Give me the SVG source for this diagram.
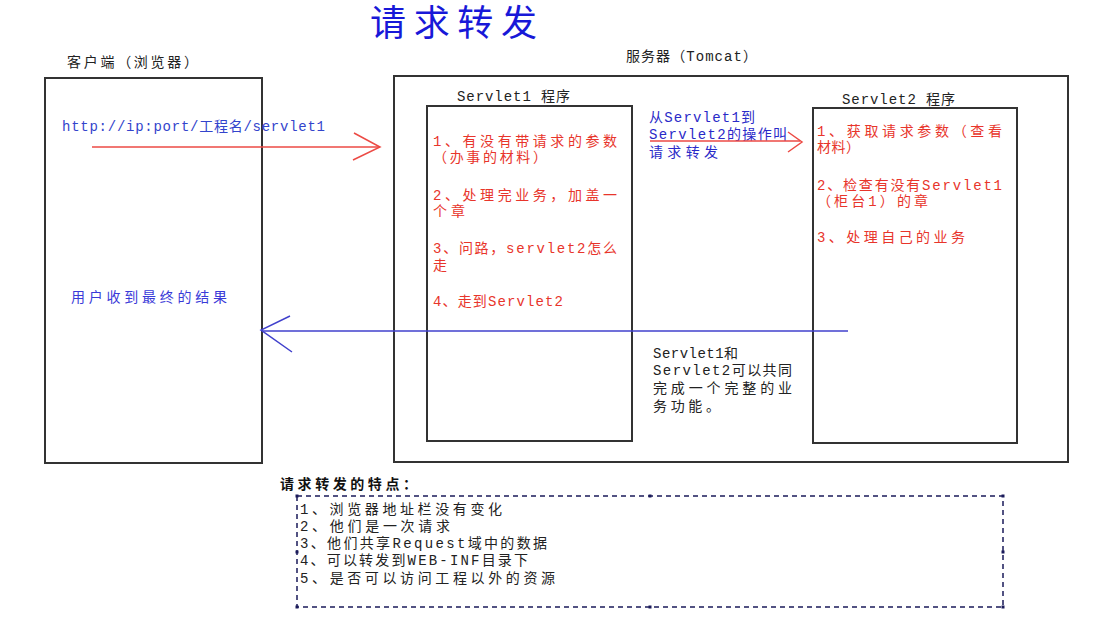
<svg xmlns="http://www.w3.org/2000/svg" width="1097" height="625" viewBox="0 0 1097 625">
<style>
.box{fill:none;stroke:#333;stroke-width:2}
.t{font-family:"Liberation Mono","Noto Sans CJK SC",monospace;font-size:14px}
.red{fill:#e8352b}
.blue{fill:#2a2ac8}
.blk{fill:#222}
.arrR{fill:none;stroke:#ec4a44;stroke-width:1.5}
.arrB{fill:none;stroke:#4040cc;stroke-width:1.5}
.dash{fill:none;stroke:#1a1a5a;stroke-width:1.5;stroke-dasharray:5 4}
.dot{fill:#1a1a5a}
</style>
<rect width="1097" height="625" fill="#fff"/>
<text x="370" y="36" font-family="Noto Sans CJK SC,sans-serif" font-size="36" fill="#1818d8" textLength="167" lengthAdjust="spacing">请求转发</text>

<g id="client">
<rect class="box" x="45" y="78" width="217" height="385"/>
<text class="t blk" x="67" y="67" textLength="131" lengthAdjust="spacing">客户端（浏览器）</text>
<text class="t" x="62" y="131" fill="#3344cc" textLength="263" lengthAdjust="spacing">http://ip:port/工程名/servlet1</text>
<text class="t" x="71" y="302" fill="#3a3ad8" textLength="156" lengthAdjust="spacing">用户收到最终的结果</text>
</g>

<g id="server">
<rect class="box" x="394" y="76" width="674" height="386"/>
<text class="t blk" x="626" y="61" textLength="131" lengthAdjust="spacing">服务器（Tomcat）</text>
<text class="t blue" x="649" y="122" textLength="106" lengthAdjust="spacing">从Servlet1到</text>
<text class="t blue" x="649" y="139" textLength="138" lengthAdjust="spacing">Servlet2的操作叫</text>
<text class="t blue" x="649" y="157" textLength="69" lengthAdjust="spacing">请求转发</text>
<text class="t blk" x="653" y="358" textLength="85" lengthAdjust="spacing">Servlet1和</text>
<text class="t blk" x="653" y="375" textLength="139" lengthAdjust="spacing">Servlet2可以共同</text>
<text class="t blk" x="653" y="393" textLength="139" lengthAdjust="spacing">完成一个完整的业</text>
<text class="t blk" x="653" y="411" textLength="67" lengthAdjust="spacing">务功能。</text>
</g>

<g id="servlet1">
<rect class="box" x="427" y="106" width="205" height="335"/>
<text class="t blk" x="457" y="101" textLength="113" lengthAdjust="spacing">Servlet1 程序</text>
<text class="t red" x="433" y="146" textLength="184" lengthAdjust="spacing">1、有没有带请求的参数</text>
<text class="t red" x="433" y="162" textLength="114" lengthAdjust="spacing">（办事的材料）</text>
<text class="t red" x="433" y="200" textLength="184" lengthAdjust="spacing">2、处理完业务，加盖一</text>
<text class="t red" x="433" y="216" textLength="32" lengthAdjust="spacing">个章</text>
<text class="t red" x="433" y="253" textLength="184" lengthAdjust="spacing">3、问路，servlet2怎么</text>
<text class="t red" x="433" y="270">走</text>
<text class="t red" x="433" y="306" textLength="130" lengthAdjust="spacing">4、走到Servlet2</text>
</g>

<g id="servlet2">
<rect class="box" x="813" y="108" width="204" height="335"/>
<text class="t blk" x="842" y="104" textLength="113" lengthAdjust="spacing">Servlet2 程序</text>
<text class="t red" x="817" y="136" textLength="185" lengthAdjust="spacing">1、获取请求参数（查看</text>
<text class="t red" x="817" y="152" textLength="43" lengthAdjust="spacing">材料）</text>
<text class="t red" x="817" y="190" textLength="185" lengthAdjust="spacing">2、检查有没有Servlet1</text>
<text class="t red" x="817" y="206" textLength="111" lengthAdjust="spacing">（柜台1）的章</text>
<text class="t red" x="817" y="242" textLength="148" lengthAdjust="spacing">3、处理自己的业务</text>
</g>

<g id="connectors">
<line class="arrR" x1="92" y1="147" x2="380" y2="147"/>
<polyline class="arrR" points="354,133 380,147 353,160"/>
<line class="arrR" x1="650" y1="141" x2="800" y2="141"/>
<polyline class="arrR" points="788,132 802,142 788,152"/>
<line class="arrB" x1="848" y1="331" x2="262" y2="331"/>
<polyline class="arrB" points="290,316 261,330 292,352"/>
</g>

<g id="features">
<text x="280" y="489" font-family="Noto Sans CJK SC,sans-serif" font-size="14" font-weight="bold" fill="#111" textLength="137" lengthAdjust="spacing">请求转发的特点：</text>
<rect class="dash" x="297" y="496" width="706" height="111"/>
<rect class="dot" x="295.5" y="494.5" width="3" height="3"/>
<rect class="dot" x="648.5" y="494.5" width="3" height="3"/>
<rect class="dot" x="1001.5" y="494.5" width="3" height="3"/>
<rect class="dot" x="295.5" y="550.5" width="3" height="3"/>
<rect class="dot" x="1001.5" y="550.5" width="3" height="3"/>
<rect class="dot" x="295.5" y="605.5" width="3" height="3"/>
<rect class="dot" x="648.5" y="605.5" width="3" height="3"/>
<rect class="dot" x="1001.5" y="605.5" width="3" height="3"/>
<text class="t blk" x="300" y="514" textLength="202" lengthAdjust="spacing">1、浏览器地址栏没有变化</text>
<text class="t blk" x="300" y="531" textLength="150" lengthAdjust="spacing">2、他们是一次请求</text>
<text class="t blk" x="300" y="548" textLength="247" lengthAdjust="spacing">3、他们共享Request域中的数据</text>
<text class="t blk" x="300" y="565" textLength="228" lengthAdjust="spacing">4、可以转发到WEB-INF目录下</text>
<text class="t blk" x="300" y="583" textLength="255" lengthAdjust="spacing">5、是否可以访问工程以外的资源</text>
</g>
</svg>
